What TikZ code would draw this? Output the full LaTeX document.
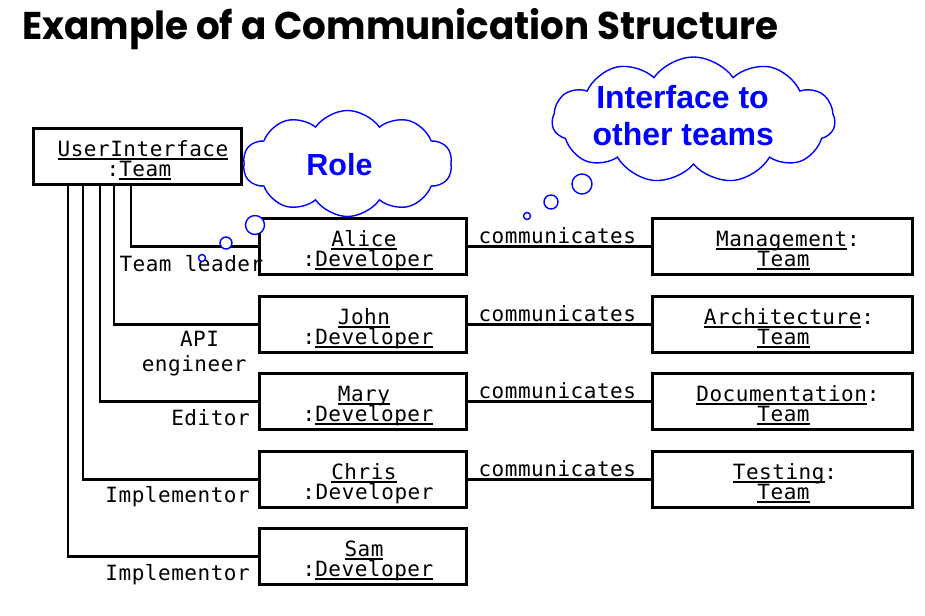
\documentclass[tikz,border=0pt]{standalone}
\usepackage{fontspec}
\usepackage{graphicx}
\usetikzlibrary{shapes.symbols}
\newfontfamily\monof{DejaVu Sans Mono}[LetterSpace=2.5]
\newfontfamily\cloudf{Liberation Sans}
\newfontfamily\titlef{Poppins}
\definecolor{cblue}{RGB}{0,0,255}
\newcommand\ulx[1]{\setbox0\hbox{#1}\rlap{\rule[-3pt]{\wd0}{1.6pt}}\box0}
\tikzset{
  mono/.style={font=\monof\fontsize{21}{20}\selectfont, inner sep=0},
  box/.style={draw, line width=2.6pt, inner sep=0, minimum height=56pt, anchor=north west},
  devbox/.style={box, minimum width=207pt},
  teambox/.style={box, minimum width=260pt},
  conn/.style={line width=2.6pt},
  bubble/.style={circle, draw=cblue, line width=1.4pt, fill=white, inner sep=0},
  cloudbox/.style={cloud, draw=cblue, line width=1.4pt, fill=white, inner sep=0, cloud puffs=11, cloud puff arc=110, cloud ignores aspect},
  cloudtxt/.style={font=\cloudf\bfseries\fontsize{30.5}{30}\selectfont, text=cblue, inner sep=0, anchor=base}
}
\begin{document}
\begin{tikzpicture}[x=1pt,y=-1pt]
\useasboundingbox (0,0) rectangle (925,615);
% title
\node[anchor=base west, inner sep=0] (title) at (22,40) {\resizebox{756pt}{31pt}{\titlef\bfseries Example of a Communication Structure}};
% boxes
\node[box, minimum width=208pt] (ui) at (32,127) {};
\node[devbox] (alice) at (258,217) {};
\node[devbox] (john) at (258,295) {};
\node[devbox] (mary) at (258,372) {};
\node[devbox] (chris) at (258,450) {};
\node[devbox] (sam) at (258,527) {};
\node[teambox] (mgmt) at (651,217) {};
\node[teambox] (arch) at (651,295) {};
\node[teambox] (doc) at (651,372) {};
\node[teambox] (test) at (651,450) {};
% box texts
\node[mono, anchor=base] (uit1) at (143,156.7) {\ulx{UserInterface}};
\node[mono, anchor=base] (uit2) at (139,176.7) {:\ulx{Team}};
\node[mono, anchor=base] (alicet1) at (364,246.7) {\ulx{Alice}};
\node[mono, anchor=base] (alicet2) at (368,266.7) {:\ulx{Developer}};
\node[mono, anchor=base] (johnt1) at (364,324.7) {\ulx{John}};
\node[mono, anchor=base] (johnt2) at (368,344.7) {:\ulx{Developer}};
\node[mono, anchor=base] (maryt1) at (364,401.7) {\ulx{Mary}};
\node[mono, anchor=base] (maryt2) at (368,421.7) {:\ulx{Developer}};
\node[mono, anchor=base] (christ1) at (364,479.7) {\ulx{Chris}};
\node[mono, anchor=base] (christ2) at (368,499.7) {:Developer};
\node[mono, anchor=base] (samt1) at (364,556.7) {\ulx{Sam}};
\node[mono, anchor=base] (samt2) at (368,576.7) {:\ulx{Developer}};
\node[mono, anchor=base] (mgmtt1) at (788,246.7) {\ulx{Management}:};
\node[mono, anchor=base] (mgmtt2) at (783.5,266.7) {\ulx{Team}};
\node[mono, anchor=base] (archt1) at (789,324.7) {\ulx{Architecture}:};
\node[mono, anchor=base] (archt2) at (783.5,344.7) {\ulx{Team}};
\node[mono, anchor=base] (doct1) at (788,401.7) {\ulx{Documentation}:};
\node[mono, anchor=base] (doct2) at (783.5,421.7) {\ulx{Team}};
\node[mono, anchor=base] (testt1) at (785,479.7) {\ulx{Testing}:};
\node[mono, anchor=base] (testt2) at (783.5,499.7) {\ulx{Team}};
% tree connectors
\draw[conn] ([xshift=99pt]ui.south west) |- (alice.west);
\draw[conn] ([xshift=82pt]ui.south west) |- (john.west);
\draw[conn] ([xshift=68pt]ui.south west) |- (mary.west);
\draw[conn] ([xshift=51pt]ui.south west) |- (chris.west);
\draw[conn] ([xshift=36pt]ui.south west) |- (sam.west);
% role labels
\node[mono, anchor=base west] (lbltl) at (119.3,271.7) {Team leader};
\node[mono, anchor=base] (lblapi1) at (199.5,346.7) {API};
\node[mono, anchor=base] (lblapi2) at (194.2,371.7) {engineer};
\node[mono, anchor=base east] (lbled) at (250,425.7) {Editor};
\node[mono, anchor=base east] (lblim1) at (250,502.7) {Implementor};
\node[mono, anchor=base east] (lblim2) at (250,580) {Implementor};
% communicates
\draw[conn] (alice.east) -- node[mono, anchor=base, yshift=3pt, xshift=-2pt] (c1) {communicates} (mgmt.west);
\draw[conn] (john.east) -- node[mono, anchor=base, yshift=3pt, xshift=-2pt] (c2) {communicates} (arch.west);
\draw[conn] (mary.east) -- node[mono, anchor=base, yshift=3pt, xshift=-2pt] (c3) {communicates} (doc.west);
\draw[conn] (chris.east) -- node[mono, anchor=base, yshift=3pt, xshift=-2pt] (c4) {communicates} (test.west);
% clouds
\node[cloudbox, cloud puffs=10, minimum width=209pt, minimum height=106pt] (rolecloud) at (347.5,163.5) {};
\node[cloudtxt] (roletxt) at (339.5,175) {Role};
\node[bubble, minimum size=19pt] (rb1) at (255,225) {};
\node[bubble, minimum size=12pt] (rb2) at (226,243) {};
\node[bubble, minimum size=7pt] (rb3) at (202,258) {};
\node[cloudbox, minimum width=283pt, minimum height=126pt] (ifcloud) at (693.5,120) {};
\node[cloudtxt, font=\cloudf\bfseries\fontsize{32}{32}\selectfont] (iftxt1) at (682.5,108.3) {Interface to};
\node[cloudtxt, font=\cloudf\bfseries\fontsize{32}{32}\selectfont] (iftxt2) at (683.3,145) {other teams};
\node[bubble, minimum size=20pt] (ib1) at (582,184) {};
\node[bubble, minimum size=14pt] (ib2) at (551,202) {};
\node[bubble, minimum size=7pt] (ib3) at (527,216) {};
\end{tikzpicture}
\end{document}
